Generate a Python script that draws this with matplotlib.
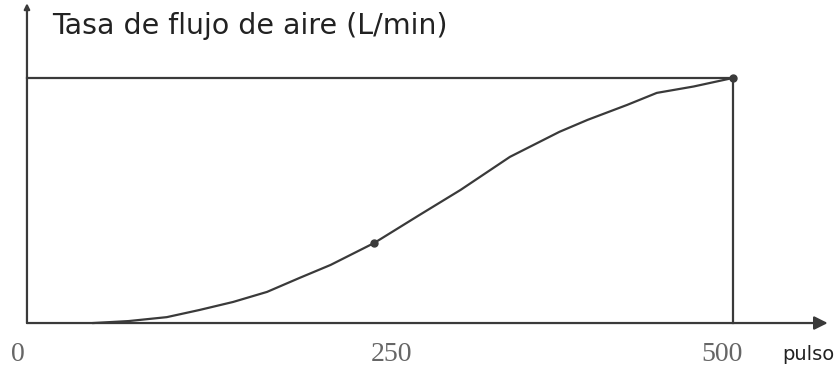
import matplotlib.pyplot as plt

# curve (x in pulses, y relative flow, top line = 100)
pulses = [47, 72, 99, 122, 146, 170, 193, 215, 246, 278, 307, 342, 377, 397, 425, 446, 472, 500]
flow = [0, 0.8, 2.4, 5.3, 8.6, 12.7, 18.4, 23.7, 32.7, 44.1, 54.3, 67.8, 78.0, 82.9, 89.0, 93.9, 96.5, 100]
mark_x = [246, 500]
mark_y = [32.7, 100]
tick_pos = [-6.4, 258, 492]
tick_labels = ['0', '250', '500']

ink = '#3a3a3a'

fig = plt.figure(figsize=(8.39, 3.74), dpi=100)
ax = fig.add_axes([0, 0, 1, 1])
ax.set_xlim(-19.1, 575)
ax.set_ylim(-20.8, 131.8)
ax.axis('off')

# axes drawn by hand with arrows
ax.annotate('', xy=(567, 0), xytext=(0, 0),
            arrowprops=dict(arrowstyle='-|>', color=ink, lw=1.6,
                            mutation_scale=20, shrinkA=0, shrinkB=0))
ax.annotate('', xy=(0, 130.5), xytext=(0, 0),
            arrowprops=dict(arrowstyle='-|>', color=ink, lw=1.6,
                            mutation_scale=8, shrinkA=0, shrinkB=0))

# box lines at the top value and at 500
ax.plot([0, 500], [100, 100], color=ink, lw=1.6)
ax.plot([500, 500], [0, 100], color=ink, lw=1.6)

ax.plot(pulses, flow, color=ink, lw=1.6)
ax.plot(mark_x, mark_y, 'o', color=ink, ms=5)

for v, lab in zip(tick_pos, tick_labels):
    ax.text(v, -13, lab, ha='center', va='center',
            fontsize=20, family='Liberation Serif', color='#666666')

ax.text(553, -13, 'pulso', ha='center', va='center', fontsize=14,
        family='DejaVu Sans', color='#222222')
ax.text(18, 121, 'Tasa de flujo de aire (L/min)', ha='left', va='center',
        fontsize=20.5, family='DejaVu Sans', color='#222222')

fig.savefig('out.png', dpi=100)
